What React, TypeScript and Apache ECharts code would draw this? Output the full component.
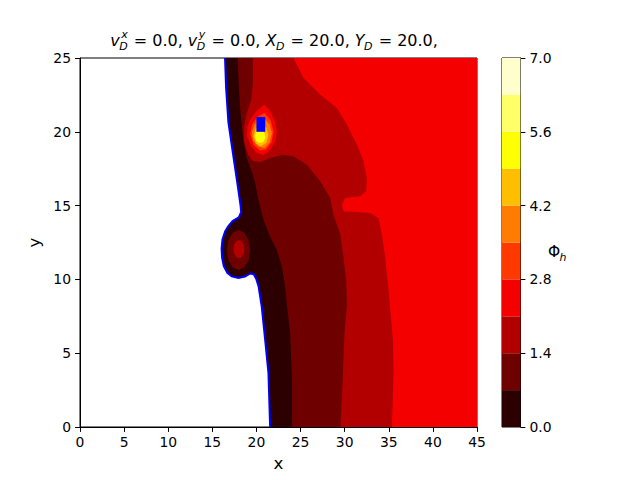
import React, { useEffect, useRef } from "react";
import * as echarts from "echarts";

// ---------- axes / ticks ----------
const xTicks = [0, 5, 10, 15, 20, 25, 30, 35, 40, 45];
const yTicks = [0, 5, 10, 15, 20, 25];
const levels = [0, 0.7, 1.4, 2.1, 2.8, 3.5, 4.2, 4.9, 5.6, 6.3, 7.0];
const levelColors = [
  "#2c0000", "#6f0000", "#b20000", "#f50000", "#ff3900",
  "#ff7c00", "#ffbf00", "#ffff04", "#ffff68", "#ffffcd",
];
const colorbarTicks = [0, 1.4, 2.8, 4.2, 5.6, 7.0];

// ---------- contour lines (data coords, from y=25 down to y=0) ----------
const boundaryLevel0: number[][] = [
  [16.44, 25], [16.56, 22.97], [16.82, 20.66], [17.36, 18.43], [17.92, 16.19],
  [18.2, 15.0], [18.27, 14.55], [18.0, 14.2], [17.3, 13.95], [16.8, 13.6],
  [16.45, 13.25], [16.15, 12.7], [16.05, 12.1], [16.1, 11.5], [16.3, 10.9],
  [16.7, 10.45], [17.2, 10.2], [17.96, 10.1], [18.7, 10.2], [19.3, 10.4],
  [19.7, 10.35], [20.0, 10.0], [20.25, 9.5], [20.6, 8.15], [20.99, 5.89],
  [21.36, 3.66], [21.55, 0],
];
const contour07: number[][] = [
  [17.89, 25], [17.96, 23.64], [18.15, 21.61], [18.52, 19.36], [18.91, 18.21],
  [19.48, 17.31], [19.86, 16.53], [20.23, 15.38], [20.8, 14.02], [21.55, 12.89],
  [22.31, 11.99], [22.88, 10.86], [23.26, 9.51], [23.45, 8.27], [23.82, 6.37],
  [24.05, 2.98], [24.05, 0],
];
const contour14: number[][] = [
  [19.59, 25], [19.59, 23.17], [19.4, 22.15], [18.94, 21.34], [18.55, 20.26],
  [18.6, 19.31], [19.06, 18.43], [19.63, 18.02], [20.42, 17.95], [21.55, 18.22],
  [22.92, 18.45], [24.2, 18.34], [25.72, 17.77], [27.23, 16.65], [28.36, 15.51],
  [28.73, 14.38], [29.5, 13.03], [29.87, 11.45], [30.18, 9.96], [30.26, 8.27],
  [29.98, 6.35], [29.76, 2.96], [29.53, 0],
];
const contour21: number[][] = [
  [24.2, 25], [25.33, 23.64], [27.23, 22.51], [29.12, 21.61], [30.26, 20.48],
  [31.39, 19.13], [32.14, 18.0], [32.52, 16.87], [32.44, 15.97], [31.76, 15.63],
  [30.06, 15.51], [29.69, 15.06], [29.87, 14.61], [32.9, 14.5], [33.84, 14.16],
  [34.23, 13.03], [34.6, 11.45], [34.97, 9.28], [35.47, 5.89], [35.54, 3.66],
  [35.36, 0],
];

// ---------- closed islands ----------
const bubble07: number[][] = [
  [19.28, 11.99], [19.1, 12.67], [18.62, 13.16], [17.96, 13.35], [17.3, 13.16],
  [16.82, 12.67], [16.64, 11.99], [16.82, 11.31], [17.3, 10.82], [17.96, 10.64],
  [18.62, 10.82], [19.1, 11.31],
];
const bubble14: number[][] = [
  [18.64, 12.05], [18.56, 12.36], [18.33, 12.59], [18.02, 12.67], [17.71, 12.59],
  [17.48, 12.36], [17.4, 12.05], [17.48, 11.74], [17.71, 11.51], [18.02, 11.43],
  [18.33, 11.51], [18.56, 11.74],
];
const hot21: number[][] = [
  [20.91, 21.84], [21.55, 21.39], [22.04, 20.82], [22.31, 20.03], [22.12, 19.36],
  [21.55, 18.79], [20.8, 18.41], [20.04, 18.56], [19.4, 19.02], [18.94, 19.69],
  [18.98, 20.37], [19.4, 20.93], [20.04, 21.43],
];
const hot28: number[][] = [
  [20.9, 21.27], [21.6, 20.8], [21.93, 20.0], [21.7, 19.3], [21.1, 18.8],
  [20.4, 18.73], [19.7, 19.1], [19.3, 19.8], [19.5, 20.5], [20.1, 21.0],
];
const hot35: number[][] = [
  [20.9, 20.9], [21.5, 20.5], [21.75, 19.9], [21.5, 19.3], [20.9, 18.9],
  [20.2, 19.0], [19.6, 19.4], [19.48, 20.0], [19.8, 20.5], [20.3, 20.8],
];
const hot42: number[][] = [
  [20.5, 20.5], [21.1, 20.3], [21.36, 19.8], [21.1, 19.25], [20.5, 19.02],
  [19.95, 19.2], [19.66, 19.7], [19.9, 20.2],
];
const hot49: number[][] = [
  [20.4, 20.15], [20.9, 19.95], [21.0, 19.6], [20.75, 19.3], [20.35, 19.24],
  [19.95, 19.4], [19.85, 19.75], [20.0, 20.05],
];

// blue marker (X_D, Y_D)
const markerX = [20, 21];
const markerY = [20, 21];

const FONT = '"DejaVu Sans"';

function closeRight(pts: number[][]): number[][] {
  return [...pts, [45, 0], [45, 25]];
}

const regions = [
  { pts: closeRight(boundaryLevel0), level: 0 },
  { pts: closeRight(contour07), level: 1 },
  { pts: bubble07, level: 1 },
  { pts: closeRight(contour14), level: 2 },
  { pts: bubble14, level: 2 },
  { pts: closeRight(contour21), level: 3 },
  { pts: hot21, level: 3 },
  { pts: hot28, level: 4 },
  { pts: hot35, level: 5 },
  { pts: hot42, level: 6 },
  { pts: hot49, level: 7 },
];

function buildTitle(): any[] {
  const ctx = document.createElement("canvas").getContext("2d")!;
  const big = 16;
  const small = 11;
  const measure = (t: string, size: number, italic: boolean) => {
    ctx.font = `${italic ? "italic " : ""}${size}px ${FONT}`;
    return ctx.measureText(t).width;
  };
  const parts = [
    { base: "v", sub: "D", sup: "x", rest: " = 0.0, " },
    { base: "v", sub: "D", sup: "y", rest: " = 0.0, " },
    { base: "X", sub: "D", sup: "", rest: " = 20.0, " },
    { base: "Y", sub: "D", sup: "", rest: " = 20.0," },
  ];
  const items: any[] = [];
  const baseline = 46;
  const central = (b: number, size: number) => b - 0.346 * size;
  let x = 0;
  for (const p of parts) {
    items.push({ t: p.base, x, size: big, italic: true, y: central(baseline, big) });
    x += measure(p.base, big, true);
    const ws = measure(p.sub, small, true);
    const wp = p.sup ? measure(p.sup, small, true) : 0;
    items.push({ t: p.sub, x: x - 0.5, size: small, italic: true, y: central(baseline + 4.5, small) });
    if (p.sup) items.push({ t: p.sup, x: x + 1.5, size: small, italic: true, y: central(baseline - 8, small) });
    x += Math.max(ws, wp + 2) + 0.5;
    items.push({ t: p.rest, x, size: big, italic: false, y: central(baseline, big) });
    x += measure(p.rest, big, false);
  }
  const start = 274 - x / 2;
  return items.map((it) => ({
    type: "text",
    x: start + it.x,
    y: it.y,
    silent: true,
    style: {
      text: it.t,
      fontSize: it.size,
      lineHeight: it.size,
      fontFamily: FONT,
      fontStyle: it.italic ? "italic" : "normal",
      fill: "#000",
      align: "left",
      verticalAlign: "middle",
    },
  }));
}

export default function App() {
  const ref = useRef<HTMLDivElement>(null);
  useEffect(() => {
    if (!ref.current) return;
    const chart = echarts.init(ref.current, null, { renderer: "svg" });
    const axisCommon = {
      axisLine: { show: true, onZero: false, lineStyle: { color: "#000", width: 1 } },
      axisTick: { show: true, inside: false, length: 4.9, lineStyle: { color: "#000", width: 1 } },
      splitLine: { show: false },
    };
    const labelStyle = { color: "#000", fontSize: 13.9, fontFamily: FONT };
    const option: any = {
      animation: false,
      backgroundColor: "#fff",
      grid: [
        { left: 80, top: 58, width: 397, height: 369, show: true, borderColor: "#000", borderWidth: 1, backgroundColor: "transparent" },
        { left: 502, top: 58, width: 18.5, height: 369, show: true, borderColor: "#000", borderWidth: 1, backgroundColor: "transparent" },
      ],
      xAxis: [
        {
          ...axisCommon,
          gridIndex: 0, type: "value", min: xTicks[0], max: xTicks[xTicks.length - 1], interval: 5,
          axisLabel: { ...labelStyle, margin: 8 },
          name: "x", nameLocation: "middle", nameGap: 27,
          nameTextStyle: { color: "#000", fontSize: 16.7, fontFamily: FONT },
        },
        { gridIndex: 1, type: "value", min: 0, max: 1, show: false },
      ],
      yAxis: [
        {
          ...axisCommon,
          gridIndex: 0, type: "value", min: yTicks[0], max: yTicks[yTicks.length - 1], interval: 5,
          axisLabel: { ...labelStyle, margin: 9 },
          name: "y", nameLocation: "middle", nameGap: 27,
          nameTextStyle: { color: "#000", fontSize: 16.7, fontFamily: FONT },
        },
        {
          ...axisCommon,
          gridIndex: 1, type: "value", position: "right",
          min: colorbarTicks[0], max: colorbarTicks[colorbarTicks.length - 1], interval: 1.4,
          axisLabel: { ...labelStyle, margin: 9, formatter: (v: number) => v.toFixed(1) },
        },
      ],
      series: [
        {
          type: "custom",
          name: "contours",
          xAxisIndex: 0, yAxisIndex: 0,
          clip: true,
          silent: true,
          data: regions.map((_, i) => [i]),
          renderItem: (params: any, api: any) => {
            const r = regions[params.dataIndex];
            return {
              type: "polygon",
              shape: { points: r.pts.map((p) => api.coord(p)) },
              style: { fill: levelColors[r.level], stroke: null },
            };
          },
        },
        {
          type: "custom",
          name: "boundary",
          xAxisIndex: 0, yAxisIndex: 0,
          clip: true,
          silent: true,
          data: [[0]],
          renderItem: (_p: any, api: any) => ({
            type: "polyline",
            shape: { points: boundaryLevel0.map((p) => api.coord(p)) },
            style: { stroke: "#0000ff", lineWidth: 2, fill: null },
          }),
        },
        {
          type: "custom",
          name: "marker",
          xAxisIndex: 0, yAxisIndex: 0,
          clip: true,
          silent: true,
          data: [[markerX[0], markerY[0]]],
          renderItem: (_p: any, api: any) => {
            const a = api.coord([markerX[0], markerY[0]]);
            const b = api.coord([markerX[1], markerY[1]]);
            return {
              type: "rect",
              shape: { x: a[0], y: b[1], width: b[0] - a[0], height: a[1] - b[1] },
              style: { fill: "#0000ff" },
            };
          },
        },
        {
          type: "custom",
          name: "colorbar",
          xAxisIndex: 1, yAxisIndex: 1,
          silent: true,
          data: levelColors.map((_, i) => [0.5, (levels[i] + levels[i + 1]) / 2]),
          renderItem: (params: any, api: any) => {
            const i = params.dataIndex;
            const a = api.coord([0, levels[i]]);
            const b = api.coord([1, levels[i + 1]]);
            return {
              type: "rect",
              shape: { x: a[0], y: b[1], width: b[0] - a[0], height: a[1] - b[1] },
              style: { fill: levelColors[i] },
            };
          },
        },
      ],
      graphic: [
        ...buildTitle(),
        {
          type: "text", x: 548, y: 252.5 - 0.346 * 15 + 5, silent: true,
          style: { text: "\u03A6", fontSize: 15.5, fontFamily: FONT, fill: "#000", align: "left", verticalAlign: "middle" },
        },
        {
          type: "text", x: 559.5, y: 261 - 0.346 * 11, silent: true,
          style: { text: "h", fontSize: 11, fontFamily: FONT, fontStyle: "italic", fill: "#000", align: "left", verticalAlign: "middle" },
        },
      ],
    };
    chart.setOption(option);
    return () => chart.dispose();
  }, []);
  return <div ref={ref} style={{ width: 640, height: 480, margin: -8 }} />;
}
